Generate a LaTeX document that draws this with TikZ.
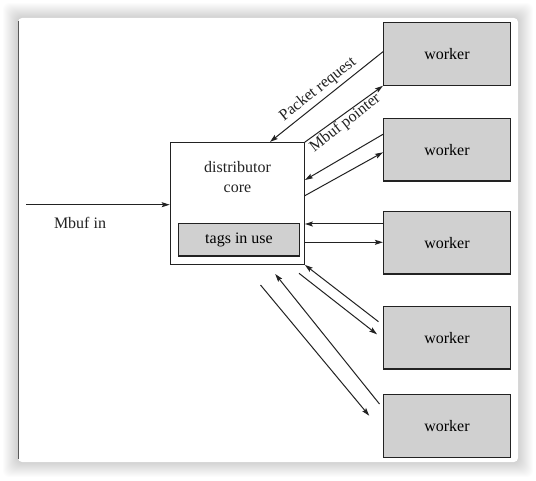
\documentclass[tikz,border=0pt]{standalone}
\usepackage{fontspec}
\setmainfont{Liberation Serif}
\usetikzlibrary{arrows.meta}
\definecolor{boxgray}{HTML}{D0D0D0}
\definecolor{ink}{HTML}{222222}
\tikzset{
  box/.style={draw=ink, line width=1.2pt, fill=boxgray, inner sep=0pt,
    font=\fontsize{16}{19}\selectfont},
  worker/.style={box, minimum width=127pt, minimum height=62.5pt},
  corebox/.style={draw=ink, line width=1.2pt, fill=white, inner sep=0pt,
    minimum width=134pt, minimum height=121.6pt},
  txt/.style={font=\fontsize{16}{19}\selectfont, inner sep=0pt, text=ink},
  flow/.style={draw=ink, line width=1pt,
    -{Stealth[length=8pt, width=5pt, inset=1.5pt]}},
}
\begin{document}
\begin{tikzpicture}[x=1pt, y=-1pt]
  \useasboundingbox (0,0) rectangle (536,481);
  \fill[white] (0,0) rectangle (536,481);
  % soft shadow round the card
  \foreach \i in {1,...,15}{
    \fill[black, opacity=0.012, rounded corners=6pt]
      (18-\i,18-\i) rectangle (518+\i,462+\i);
  }
  \fill[white, rounded corners=4pt] (18,18) rectangle (518,462);
  \draw[gray!70!black, line width=0.8pt] (18.4,21) -- (18.4,459);

  % workers
  \node[worker] (w1) at (447,54)    {worker};
  \node[worker] (w2) at (447,149.7) {worker};
  \node[worker] (w3) at (447,242.7) {worker};
  \node[worker] (w4) at (447,337.7) {worker};
  \node[worker] (w5) at (447,426)   {worker};

  % distributor core
  \node[corebox] (core) at (237.3,203.5) {};
  \node[txt, align=center] (coretext) at (237.5,177.5) {distributor\\[1pt]core};
  \node[box, minimum width=121pt, minimum height=32.3pt] (tags) at (239,239.8) {tags in use};

  % input
  \coordinate (in) at (26,204.7);
  \draw[flow] (in) -- (core.west |- in);
  \node[txt] (inlabel) at (80,223.3) {Mbuf in};

  % worker 1
  \coordinate (a1) at (383,51.7);
  \coordinate (a2) at (270,141.9);
  \draw[flow] (a1) -- (a2);
  \draw[flow] (core.north east) -- (w1.south west);
  \node[txt, rotate=38.5] (lreq) at (318,89.3) {Packet request};
  \node[txt, rotate=38] (lptr) at (345.3,123.3) {Mbuf pointer};

  % worker 2
  \coordinate (b1) at (383,134.3);
  \coordinate (b2) at (305,180);
  \coordinate (b3) at (304.3,196);
  \coordinate (b4) at (383,152.3);
  \draw[flow] (b1) -- (b2);
  \draw[flow] (b3) -- (b4);

  % worker 3
  \coordinate (c1) at (383,224);
  \coordinate (c2) at (304.3,242.3);
  \draw[flow] (c1) -- (core.east |- c1);
  \draw[flow] (c2) -- (w3.west |- c2);

  % worker 4
  \coordinate (d1) at (378.5,321.7);
  \coordinate (d2) at (299,273.3);
  \coordinate (d3) at (377,334.3);
  \draw[flow] (d1) -- (core.south east);
  \draw[flow] (d2) -- (d3);

  % worker 5
  \coordinate (e1) at (379.5,404);
  \coordinate (e2) at (275.2,274);
  \coordinate (e3) at (260.5,285);
  \coordinate (e4) at (369.2,415.7);
  \draw[flow] (e1) -- (e2);
  \draw[flow] (e3) -- (e4);
\end{tikzpicture}
\end{document}
